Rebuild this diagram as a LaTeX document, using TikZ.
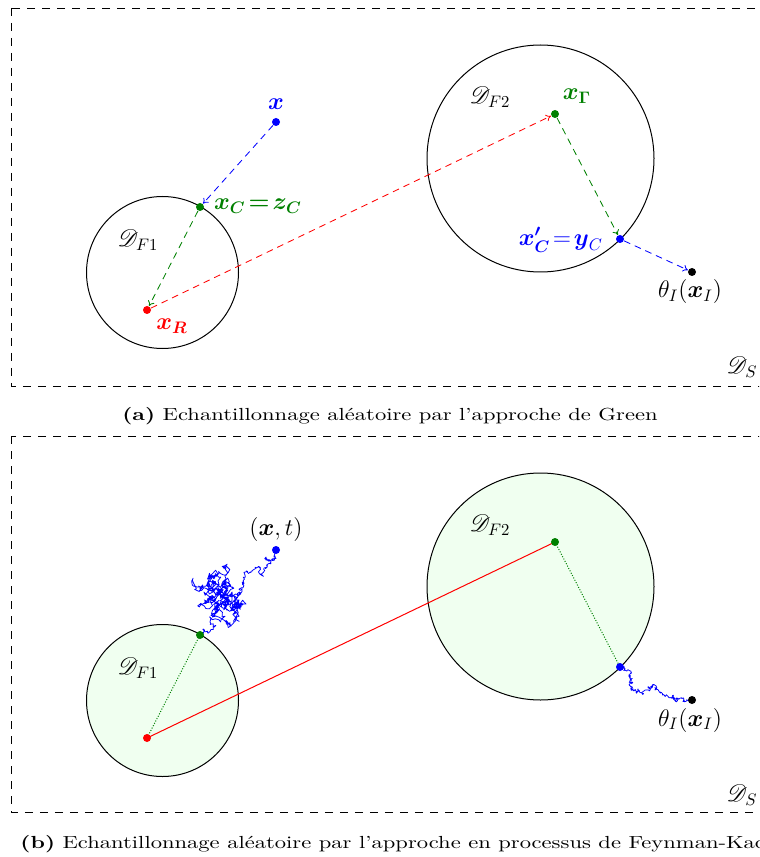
\documentclass[tikz,border=0pt]{standalone}
\usepackage{amsmath}
\usepackage{mathrsfs}
\usepackage{fontspec}
\newfontfamily\capfont{lmroman10-regular.otf}[BoldFont=lmroman10-bold.otf,FakeStretch=1.29,Ligatures=TeX]
\usetikzlibrary{arrows.meta}
\colorlet{dgreen}{green!50!black}
\newcommand\rwstart[3]{\xdef\rwx{#2}\xdef\rwy{#3}\xdef\rwpath{(#1)}}
\newcommand\rwseg[4]{%
  \foreach \k in {1,...,#3}{%
    \pgfmathsetmacro\rwrem{#3-\k+1}%
    \pgfmathsetmacro\rwfac{sqrt((\rwrem-1)/\rwrem)}%
    \pgfmathsetmacro\rwnx{\rwx+(#1-\rwx)/\rwrem+#4*\rwfac*rand}%
    \pgfmathsetmacro\rwny{\rwy+(#2-\rwy)/\rwrem+#4*\rwfac*rand}%
    \xdef\rwx{\rwnx}\xdef\rwy{\rwny}%
    \xdef\rwpath{\rwpath -- (\rwnx,\rwny)}%
  }}
\begin{document}
\begin{tikzpicture}[x=0.6pt,y=-0.6pt,line width=0.6pt,
  dot/.style={circle,fill=#1,inner sep=0pt,minimum size=4.8pt},
  lab/.style={inner sep=1pt,font=\Large},
  biglab/.style={inner sep=1pt,font=\Large},
  domlab/.style={inner sep=1pt,font=\Large},
  border/.style={dash pattern=on 4.8pt off 4.2pt,line width=0.5pt},
  arr/.style={#1,line width=0.5pt,dash pattern=on 4pt off 3pt,-{To[length=3pt,width=4.2pt]}},
  walk/.style={blue,line width=0.45pt,line join=round},
  smallc/.style={circle,draw,inner sep=0pt,minimum size=91.2pt},
  bigc/.style={circle,draw,inner sep=0pt,minimum size=136.2pt},
  captext/.style={anchor=base,inner sep=0pt,font=\capfont\fontsize{10.5pt}{12pt}\selectfont}]
\useasboundingbox (0,0) rectangle (759,857);
\clip (0,0) rectangle (759,857);

% ---------- panel (a) ----------
\draw[border] (11,8) rectangle (800,386);
\node[smallc] (Fa1) at (162.5,272.5) {};
\node[bigc] (Fa2) at (540.5,158.5) {};
\node[domlab] (lFa1) at (138,240) {$\mathscr{D}_{F1}$};
\node[domlab] (lFa2) at (490,97) {$\mathscr{D}_{F2}$};
\node[domlab] (lSa) at (742,367) {$\mathscr{D}_{S}$};

\node[dot=red] (xR) at (147,310) {};
\node[dot=dgreen] (xC) at (200,207) {};
\node[dot=blue] (xx) at (276,122) {};
\node[dot=dgreen] (xG) at (555,114) {};
\node[dot=blue] (xCp) at (620,239) {};
\node[dot=black] (th) at (692,272) {};

\draw[arr=blue] (xx) -- (xC);
\draw[arr=dgreen] (xC) -- (xR);
\draw[arr=red] (xR) -- (xG);
\draw[arr=dgreen] (xG) -- (xCp);
\draw[arr=blue] (xCp) -- (th);

\node[lab,text=blue] (lxx) at (276,104) {$\boldsymbol{x}$};
\node[lab,text=dgreen,anchor=west] (lxC) at (212,206) {$\boldsymbol{x_C\!=\!z_C}$};
\node[lab,text=red] (lxR) at (172,326) {$\boldsymbol{x_R}$};
\node[lab,text=dgreen] (lxG) at (577,96) {$\boldsymbol{x_\Gamma}$};
\node[lab,text=blue,anchor=east] (lxCp) at (605,240) {$\boldsymbol{x'_C}\!=\!\boldsymbol{y}_C$};
\node[biglab] (lth) at (690,292) {$\theta_I(\boldsymbol{x}_I)$};

\node[captext] (capa) at (390,420) {\textbf{(a)} Echantillonnage aléatoire par l’approche de Green};

% ---------- panel (b) ----------
\draw[border] (11,436) rectangle (800,812);
\node[smallc,fill=green!6] (Fb1) at (162.5,700.5) {};
\node[bigc,fill=green!6] (Fb2) at (540.5,586.5) {};
\node[domlab] (lFb1) at (138,668) {$\mathscr{D}_{F1}$};
\node[domlab] (lFb2) at (490,525) {$\mathscr{D}_{F2}$};
\node[domlab] (lSb) at (742,795) {$\mathscr{D}_{S}$};

\coordinate (yR) at (147,738);
\coordinate (yC) at (200,635);
\coordinate (yx) at (276,550);
\coordinate (yG) at (555,542);
\coordinate (yCp) at (620,667);
\coordinate (yth) at (692,700);

\draw[red] (yR) -- (yG);
\draw[dgreen,densely dotted] (yR) -- (yC);
\draw[dgreen,densely dotted] (yG) -- (yCp);

\pgfmathsetseed{11}
\rwstart{yC}{200}{635}
\rwseg{210}{622}{25}{2.4}
\rwseg{212}{598}{160}{4.4}
\rwseg{222}{604}{160}{4.4}
\rwseg{218}{588}{120}{4}
\rwseg{240}{594}{40}{2.6}
\rwseg{245}{575}{25}{2.4}
\rwseg{262}{575}{25}{2.4}
\rwseg{270}{560}{20}{2}
\rwseg{276}{550}{40}{2}
\edef\rwdraw{\noexpand\draw[walk] \rwpath;}\rwdraw

\rwstart{yCp}{620}{667}
\rwseg{632}{682}{60}{2}
\rwseg{660}{692}{90}{1.8}
\rwseg{692}{700}{90}{1.4}
\edef\rwdraw{\noexpand\draw[walk] \rwpath;}\rwdraw

\node[dot=red] (dR) at (yR) {};
\node[dot=dgreen] (dC) at (yC) {};
\node[dot=blue] (dx) at (yx) {};
\node[dot=dgreen] (dG) at (yG) {};
\node[dot=blue] (dCp) at (yCp) {};
\node[dot=black] (dth) at (yth) {};

\node[biglab] (lyx) at (276,529) {$(\boldsymbol{x},t)$};
\node[biglab] (lyth) at (690,720) {$\theta_I(\boldsymbol{x}_I)$};

\node[captext,anchor=base west] (capb) at (20,848) {\textbf{(b)} Echantillonnage aléatoire par l’approche en processus de Feynman-Kac};
\end{tikzpicture}
\end{document}
